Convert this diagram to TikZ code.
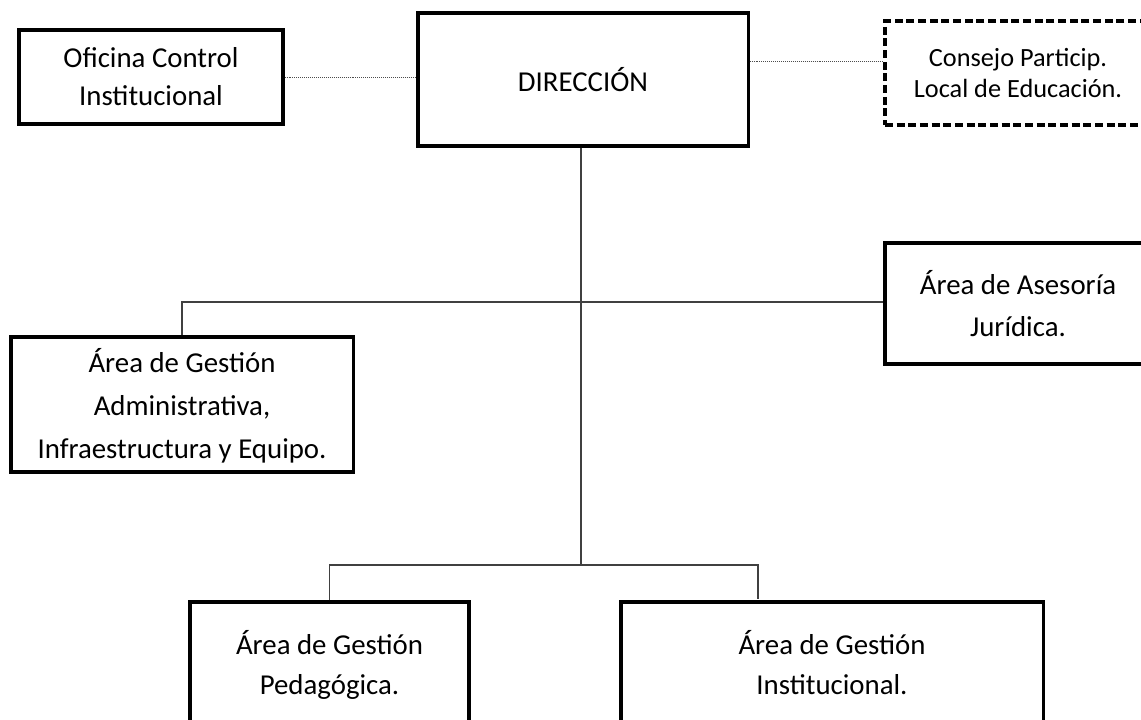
\documentclass[tikz,border=0pt]{standalone}
\usepackage{fontspec}
\setmainfont{Carlito}
\usepackage{tikz}
\usetikzlibrary{positioning}

\begin{document}
\begin{tikzpicture}[x=0.025cm, y=-0.025cm,
  caja/.style={draw, line width=2.2pt, align=center, inner sep=0pt,
    font=\fontsize{20.5}{28}\selectfont},
  linea/.style={draw=black!75, line width=0.8pt},
  punteada/.style={draw=black!70, line width=0.7pt, dash pattern=on 0.7pt off 0.7pt}]
\useasboundingbox (0,0) rectangle (1141,719);
\clip (0,0) rectangle (1141,719);

\node [caja, minimum width=6.6cm, minimum height=2.35cm,
  font=\fontsize{20.5}{27}\selectfont] (ofi) at (151,77) {Oficina Control\\Institucional};
\node [caja, minimum width=8.25cm, minimum height=3.325cm] (dir) at (583,79.5) {DIRECCIÓN};
\node [caja, dash pattern=on 5.7pt off 2.6pt, minimum width=6.65cm, minimum height=2.6cm,
  font=\fontsize{18.7}{22.7}\selectfont] (cons) at (1018,73) {Consejo Particip.\\Local de Educación.};

\node [caja, minimum width=6.65cm, minimum height=3.025cm,
  font=\fontsize{20.5}{29.8}\selectfont] (ases) at (1018,303.5) {Área de Asesoría\\Jurídica.};
\node [caja, minimum width=8.55cm, minimum height=3.375cm] (adm) at (182,404.5) {};
\node [align=center, inner sep=0pt, font=\fontsize{20.5}{30.5}\selectfont]
  (admtxt) at (182,406) {Área de Gestión\\Administrativa,\\Infraestructura y Equipo.};

\node [caja, minimum width=6.975cm, minimum height=3.15cm] (ped) at (329.5,665) {Área de Gestión\\Pedagógica.};
\node [caja, minimum width=10.55cm, minimum height=3.15cm] (inst) at (832,665) {Área de Gestión\\Institucional.\vphantom{g}};

\coordinate (j1) at (581,302);
\coordinate (j2) at (581,565);
\coordinate (r2) at (758,599);

% lineas punteadas
\draw [punteada] (ofi.east) -- (ofi.east -| dir.west);
\draw [punteada] ([yshift=0.46cm]dir.east) -- ([yshift=0.46cm]dir.east -| cons.west);

% organigrama
\draw [linea] (dir.south -| j2) -- (j2);
\draw [linea] (adm.north) -- (adm.north |- j1) -- (ases.west |- j1);
\draw [linea] (ped.north) -- (ped.north |- j2) -- (r2 |- j2) -- (r2);

\end{tikzpicture}
\end{document}
